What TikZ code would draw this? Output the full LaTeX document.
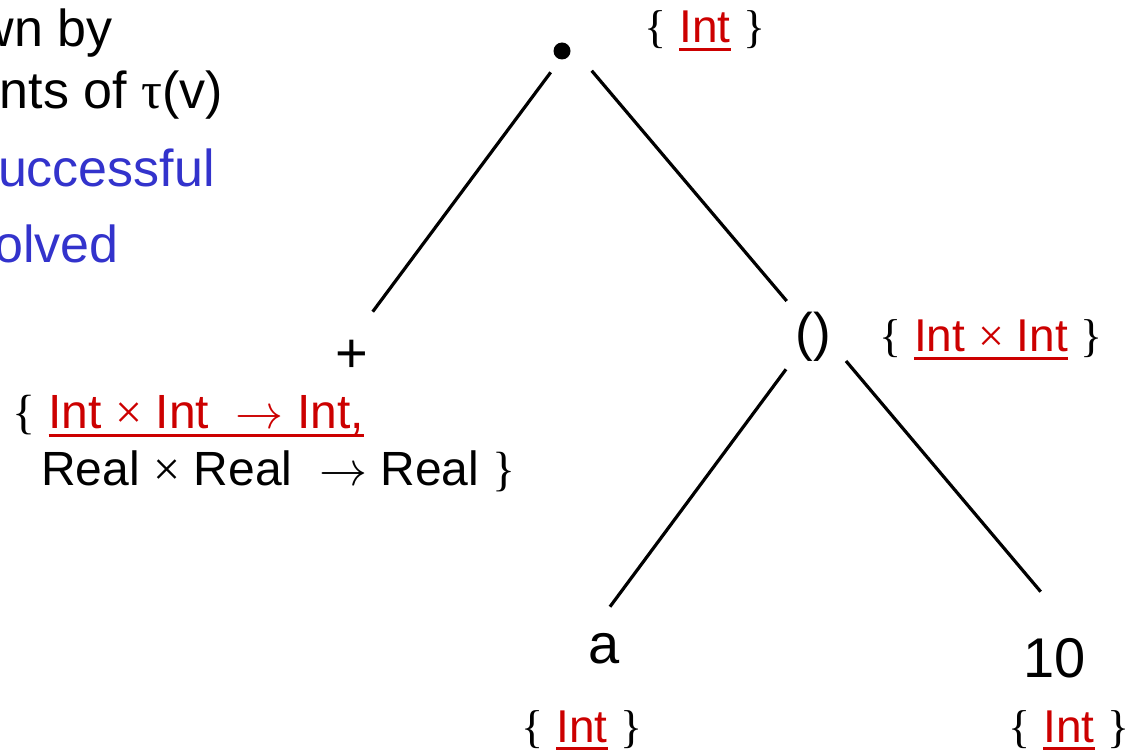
\documentclass[tikz,border=0pt]{standalone}
\usepackage{fontspec}
\setmainfont{Liberation Sans}
\newfontfamily\symf{Liberation Serif}
\definecolor{tred}{HTML}{CC0000}
\definecolor{tblue}{HTML}{3333CC}
\newcommand\ulx[1]{\setbox0\hbox{#1}\rlap{\rule[-0.18em]{\wd0}{0.065em}}\box0}
\newcommand\lbr{{\symf\{}}
\newcommand\rbr{{\symf\}}}
\newcommand\tms{{\symf\char"00D7}}
\newcommand\arr{\scalebox{4.8}{\fontsize{10}{12}\selectfont$\rightarrow$}}
\newcommand\tauc{{\symf\char"03C4}}
\begin{document}
\begin{tikzpicture}[x=1pt,y=-1pt,
  lbl/.style={inner sep=0pt, font=\fontsize{46}{54}\selectfont},
  nd/.style={inner sep=0pt, font=\fontsize{56}{64}\selectfont},
  side/.style={inner sep=0pt, font=\fontsize{52}{60}\selectfont},
  edge/.style={line width=3.2pt}]
\useasboundingbox (0,0) rectangle (1130,751);
\begin{scope}
\clip (0,0) rectangle (1130,751);
\node[side, anchor=base east] (s1) at (113,47) {wn by};
\node[side, anchor=base east] (s2) at (223,109) {nts of \tauc(v)};
\node[side, anchor=base east, text=tblue] (s3) at (215,187) {uccessful};
\node[side, anchor=base east, text=tblue] (s4) at (119,263) {olved};
\end{scope}
% tree nodes
\node[circle, fill, inner sep=0pt, minimum size=17pt] (root) at (562,51) {};
\node[nd, anchor=base] (plus) at (352,372.6) {+};
\node[nd, anchor=base, font=\fontsize{53}{60}\selectfont] (tup) at (813,351) {()};
\node[nd, anchor=base] (a) at (604,663) {a};
\node[nd, anchor=base west] (ten) at (1023,677) {10};
% connectors
\draw[edge] ([shift={(-11.3,21.3)}]root.center) -- ([shift={(20.7,-60.9)}]plus.base);
\draw[edge] ([shift={(29.7,19.7)}]root.center) -- ([shift={(-26.3,-50)}]tup.base);
\draw[edge] ([shift={(-27,18.3)}]tup.base) -- ([shift={(6,-56.3)}]a.base);
\draw[edge] ([shift={(33,10)}]tup.base) -- ([shift={(17.7,-85.3)}]ten.base west);
% type labels
\node[lbl, anchor=base] (lroot) at (705,43) {\lbr{} \textcolor{tred}{\ulx{Int}} \rbr};
\node[lbl, anchor=base] (ltup) at (991,352) {\lbr{} \textcolor{tred}{\ulx{Int \tms{} Int}} \rbr};
\node[lbl, anchor=base west, font=\fontsize{48}{56}\selectfont] (lplus1) at (12,428) {\lbr{} \textcolor{tred}{\ulx{Int \tms{} Int \ \arr{} Int,}}};
\node[lbl, anchor=base west, font=\fontsize{48}{56}\selectfont] (lplus2) at (41,485) {Real \tms{} Real \ \arr{} Real \rbr};
\node[lbl, anchor=base] (la) at (582,742) {\lbr{} \textcolor{tred}{\ulx{Int}} \rbr};
\node[lbl, anchor=base] (lten) at (1069,742) {\lbr{} \textcolor{tred}{\ulx{Int}} \rbr};
\end{tikzpicture}
\end{document}
